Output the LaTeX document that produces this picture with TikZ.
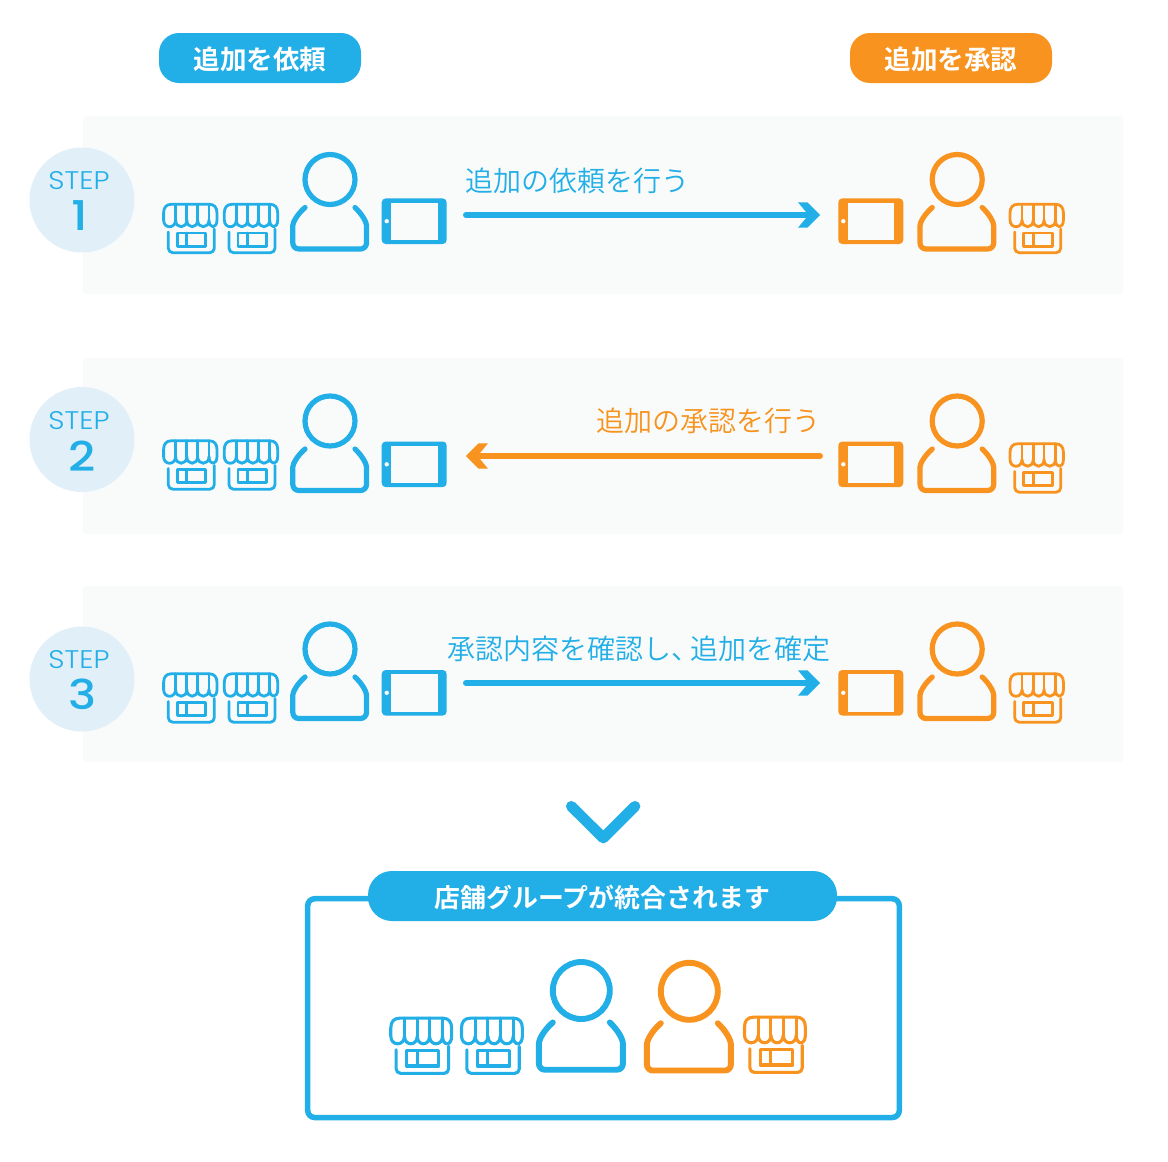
\documentclass[tikz,border=0pt]{standalone}
\usepackage{fontspec}
\newfontfamily\jpl{Noto Sans CJK JP DemiLight}
\newfontfamily\jpb{Noto Sans CJK JP Bold}
\newfontfamily\stepf{Poppins Light}
\newfontfamily\numf{Poppins Medium}
\definecolor{cblue}{HTML}{22AEE6}
\definecolor{corange}{HTML}{F7931E}
\definecolor{cpanel}{HTML}{F9FBFB}
\definecolor{ccircle}{HTML}{E1EFF9}
\tikzset{
  panelbox/.style={fill=cpanel,rounded corners=3pt},
  stepcircle/.style={circle,fill=ccircle,minimum size=105pt,inner sep=0pt},
  steplabel/.style={text=cblue,inner sep=0pt,font=\stepf\fontsize{25.5}{26}\selectfont},
  stepnum/.style={text=cblue,inner sep=0pt,font=\numf\fontsize{41}{41}\selectfont},
  pill/.style={fill=#1,rounded corners=20pt,minimum height=50pt,inner sep=0pt,text=white,font=\jpb\fontsize{26.6}{27}\selectfont},
  msg/.style={text=#1,inner sep=0pt,font=\jpl\fontsize{28}{28}\selectfont},
  flow/.style={draw=#1,line width=6pt,line cap=round},
  icon/.style={draw=#1,line cap=round,line join=round},
}
\newcommand{\stepword}{\scalebox{1.11}[1]{STEP}}
\newcommand{\wide}[1]{\scalebox{1.15}[1]{#1}}
\newcommand{\lowered}[1]{\raisebox{-1.8pt}[\height][\depth]{#1}}
% #1 x, #2 y (top left), #3 scale, #4 colour, #5 line width
\newcommand{\shopicon}[5]{%
\begin{scope}[shift={(#1,#2)},scale=#3,icon=#4,line width=#5pt]
\draw (1.3,17) -- (1.3,10) .. controls (1.3,4.5) and (4,1.3) .. (9,1.3) -- (47,1.3) .. controls (52,1.3) and (54.7,4.5) .. (54.7,10) -- (54.7,17)
  .. controls (54.7,26) and (46.7,26) .. (46.7,17)
  .. controls (46.7,26) and (35.3,26) .. (35.3,17)
  .. controls (35.3,26) and (24.5,26) .. (24.5,17)
  .. controls (24.5,26) and (13.3,26) .. (13.3,17)
  .. controls (13.3,26) and (1.3,26) .. (1.3,17);
\draw (13.3,17) -- (13.3,1.3) (24.5,17) -- (24.5,1.3) (35.3,17) -- (35.3,1.3) (46.7,17) -- (46.7,1.3);
\draw[rounded corners=4.5pt] (6,29) -- (6,49.7) -- (52,49.7) -- (52,26);
\draw (15,30) rectangle (43.5,43.2) (24.5,30) -- (24.5,43.2);
\end{scope}}
% #1,#2 head centre, #3 scale, #4 colour, #5 line width
\newcommand{\personicon}[5]{%
\begin{scope}[shift={(#1,#2)},scale=#3,icon=#4,line width=#5pt]
\draw (0,0) circle[radius=25];
\draw[rounded corners=6pt] (-25,28) .. controls (-33,35) and (-37.2,43) .. (-37.2,52) -- (-37.2,69.5) -- (36.5,69.5) -- (36.5,52) .. controls (36.5,43) and (32.5,35) .. (25,28);
\end{scope}}
% #1,#2 top left, #3 colour
\newcommand{\tableticon}[3]{%
\begin{scope}[shift={(#1,#2)}]
\fill[#3,rounded corners=4pt] (0,0) rectangle (65,45.6);
\fill[cpanel] (9.6,4.4) rectangle (56,41.6);
\fill[cpanel] (5,22.8) circle[radius=2.2];
\end{scope}}
\newcommand{\arrowright}[1]{%
\coordinate (rs) at (466,#1); \coordinate (re) at (808,#1);
\draw[flow=cblue] (rs) -- (re);
\fill[cblue] (820,#1) -- ++(-12.5,-12.7) -- ++(-9.5,0) -- ++(10.5,12.7) -- ++(-10.5,12.7) -- ++(9.5,0) -- cycle;}
\begin{document}
\begin{tikzpicture}[x=1pt,y=-1pt]
\useasboundingbox (0,0) rectangle (1168,1162);
\fill[white] (0,0) rectangle (1168,1162);
% panels
\fill[panelbox] (83,116) rectangle (1123,294);
\fill[panelbox] (83,358) rectangle (1123,534);
\fill[panelbox] (83,586) rectangle (1123,762);
% headers
\node[pill=cblue,minimum width=202pt] (hleft) at (260,58) {\lowered{追加を依頼}};
\node[pill=corange,minimum width=202pt] (hright) at (951,58) {\lowered{追加を承認}};
% step circles
\node[stepcircle] (c1) at (82,200) {};
\node[stepcircle] (c2) at (82,439.5) {};
\node[stepcircle] (c3) at (82,679) {};
\node[steplabel] (s1) at (79,180.5) {\stepword};
\node[steplabel] (s2) at (79,420.5) {\stepword};
\node[steplabel] (s3) at (79,659.5) {\stepword};
\node[stepnum] (n1) at (80,216) {\wide{1}};
\node[stepnum] (n2) at (82.3,456) {\wide{2}};
\node[stepnum] (n3) at (82.3,694) {\wide{3}};
% row 1
\shopicon{162.3}{203}{1}{cblue}{2.8}
\shopicon{223}{203}{1}{cblue}{2.8}
\personicon{330}{179.5}{1}{cblue}{5.2}
\tableticon{381.7}{198.4}{cblue}
\arrowright{215}
\node[msg=cblue] (m1) at (577.5,180.5) {追加の依頼を行う};
\tableticon{838.3}{198.4}{corange}
\personicon{957.2}{179.5}{1}{corange}{5.2}
\shopicon{1008.7}{203}{1}{corange}{2.8}
% row 2
\shopicon{162.3}{439.5}{1}{cblue}{2.8}
\shopicon{223}{439.5}{1}{cblue}{2.8}
\personicon{330}{421}{1}{cblue}{5.2}
\tableticon{381.7}{441.5}{cblue}
\coordinate (ls) at (820,456); \coordinate (le) at (478,456);
\draw[flow=corange] (ls) -- (le);
\fill[corange] (466,456) -- ++(12.5,-12.7) -- ++(9.5,0) -- ++(-10.5,12.7) -- ++(10.5,12.7) -- ++(-9.5,0) -- cycle;
\node[msg=corange] (m2) at (708.5,420.5) {追加の承認を行う};
\tableticon{838.3}{441.5}{corange}
\personicon{957.2}{421}{1}{corange}{5.2}
\shopicon{1008.7}{442.5}{1}{corange}{2.8}
% row 3
\shopicon{162.3}{672.5}{1}{cblue}{2.8}
\shopicon{223}{672.5}{1}{cblue}{2.8}
\personicon{330}{649}{1}{cblue}{5.2}
\tableticon{381.7}{670}{cblue}
\arrowright{683}
\node[msg=cblue] (m3) at (639,649) {承認内容を確認し、\hspace{-9pt}追加を確定};
\tableticon{838.3}{670}{corange}
\personicon{957.2}{649}{1}{corange}{5.2}
\shopicon{1008.7}{672.5}{1}{corange}{2.8}
% chevron
\coordinate (va) at (571.3,806.3); \coordinate (vb) at (603.3,838); \coordinate (vc) at (635,806.3);
\draw[cblue,line width=10.7pt,line cap=round,line join=round] (va) -- (vb) -- (vc);
% result box
\draw[cblue,line width=5.5pt,rounded corners=7pt] (307.7,898.7) rectangle (899.3,1117.5);
\node[pill=cblue,minimum width=469pt,rounded corners=24pt,font=\jpb\fontsize{25.9}{26}\selectfont] (htotal) at (602.5,896) {\lowered{店舗グループが統合されます}};
\shopicon{389.3}{1016.7}{1.14}{cblue}{3.1}
\shopicon{460}{1016.7}{1.14}{cblue}{3.1}
\personicon{581.3}{990.5}{1.14}{cblue}{5.9}
\personicon{689.3}{991.3}{1.14}{corange}{5.9}
\shopicon{743}{1015.7}{1.14}{corange}{3.1}
\end{tikzpicture}
\end{document}
